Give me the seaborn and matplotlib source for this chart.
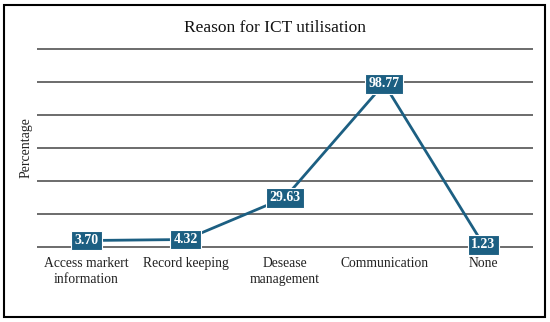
import matplotlib.pyplot as plt
import seaborn as sns
from matplotlib.patches import Rectangle

categories = ["Access markert\ninformation", "Record keeping", "Desease\nmanagement", "Communication", "None"]
values = [3.70, 4.32, 29.63, 98.77, 1.23]
y_ticks = [0, 20, 40, 60, 80, 100, 120]

LINE_COLOR = "#1c5f82"
SERIF = ["Liberation Serif", "DejaVu Serif"]


def main():
    sns.set_theme(style="white")
    plt.rcParams["font.family"] = SERIF

    fig = plt.figure(figsize=(5.5, 3.22), dpi=100)
    ax = fig.add_axes([0.067, 0.231, 0.902, 0.621])

    x_pos = list(range(len(categories)))
    sns.lineplot(x=x_pos, y=values, ax=ax, color=LINE_COLOR, linewidth=2, sort=False)

    for x, v in zip(x_pos, values):
        ax.text(x, v, f"{v:.2f}", ha="center", va="center", color="white",
                fontsize=10, fontweight="bold",
                bbox=dict(boxstyle="square,pad=0.25", facecolor=LINE_COLOR,
                          edgecolor="white", linewidth=0.8))

    ax.set_xlim(-0.5, len(categories) - 0.5)
    ax.set_ylim(-0.6, 120.6)
    ax.set_yticks(y_ticks)
    ax.set_yticklabels([])
    ax.tick_params(axis="y", length=0)
    ax.grid(axis="y", color="#444444", linewidth=1.1)
    ax.set_axisbelow(True)
    for s in ax.spines.values():
        s.set_visible(False)

    ax.set_xticks(x_pos)
    ax.set_xticklabels(categories, fontsize=9.8, color="#222222", linespacing=1.3)
    ax.tick_params(axis="x", length=0, pad=7)
    ax.set_xlabel("")
    ax.set_ylabel("Percentage", fontsize=10, color="#222222", va="center")
    ax.yaxis.set_label_coords(-0.021, 0.5)

    fig.text(0.5, 0.912, "Reason for ICT utilisation", ha="center", va="center",
             fontsize=12.5, color="#111111")

    fig.patches.append(Rectangle((0.008, 0.014), 0.983, 0.972, transform=fig.transFigure,
                                 fill=False, edgecolor="black", linewidth=1.5))

    fig.savefig("out.png", dpi=100)


if __name__ == "__main__":
    main()
